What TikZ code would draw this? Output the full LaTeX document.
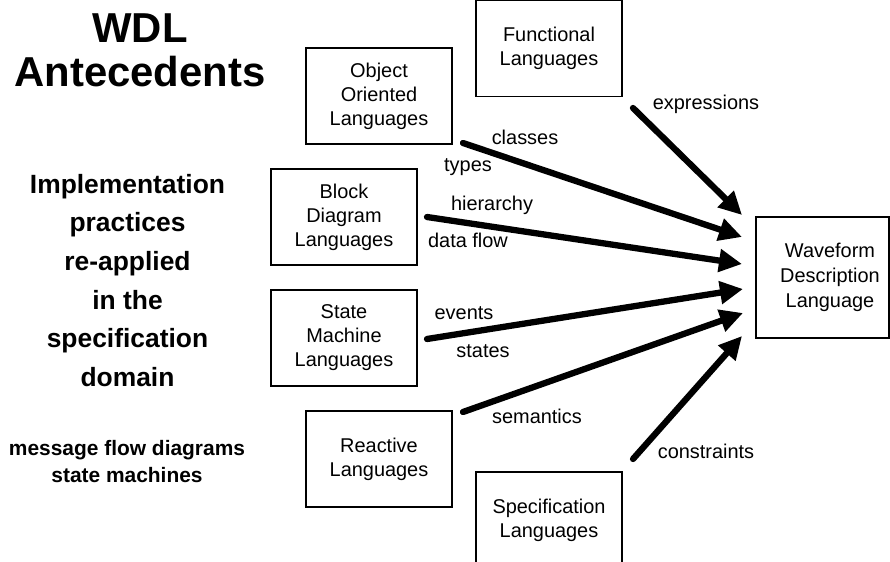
\documentclass[tikz,border=0pt]{standalone}
\usepackage{fontspec}
\setmainfont{Liberation Sans}
\usetikzlibrary{arrows.meta}
\begin{document}
\begin{tikzpicture}[x=1bp,y=-1bp,
  langbox/.style={draw, line width=1.2bp, minimum width=146bp, minimum height=96bp,
    inner sep=0pt, align=center, font=\fontsize{20}{24}\selectfont},
  flow/.style={line width=6.3bp, line cap=round, -{Triangle[length=23bp,width=22bp]}},
  lbl/.style={anchor=base, inner sep=0pt, font=\fontsize{20}{24}\selectfont}]
\clip (0,0) rectangle (890,562);

% headings on the left
\node[align=center, inner sep=0pt, font=\fontsize{42}{44}\bfseries] (title) at (140,50) {WDL\\Antecedents};
\node[align=center, inner sep=0pt, font=\fontsize{26.5}{38.8}\bfseries] (practice) at (127.5,280.5)
  {Implementation\\practices\\re-applied\\in the\\specification\\domain};
\node[align=center, inner sep=0pt, font=\fontsize{21}{28}\bfseries] (examples) at (127,461.5)
  {message flow diagrams\\state machines};

% source languages
\node[langbox] (func) at (549,48.5) {Functional\\Languages};
\node[langbox] (oo) at (379,96) {Object\\Oriented\\Languages};
\node[langbox] (block) at (344,217) {Block\\Diagram\\Languages};
\node[langbox] (fsm) at (344,338) {State\\Machine\\Languages};
\node[langbox] (react) at (379,459) {Reactive\\Languages};
\node[langbox] (spec) at (549,520) {Specification\\Languages};

% target language
\node[draw, line width=1.2bp, minimum width=133bp, minimum height=121bp, inner sep=0pt] (wdl) at (822.5,277.5) {};
\node[align=center, inner sep=0pt, font=\fontsize{20}{25}\selectfont] (wdltext) at (830,277.5)
  {Waveform\\Description\\Language};

% arrow ends
\coordinate (sFunc) at (633,108);   \coordinate (tFunc) at (742,215);
\coordinate (sOO) at (463,143);     \coordinate (tOO) at (742,237);
\coordinate (sBlock) at (427,217);  \coordinate (tBlock) at (742,264);
\coordinate (sFsm) at (427,339);    \coordinate (tFsm) at (743,289);
\coordinate (sReact) at (463,412);  \coordinate (tReact) at (743,313);
\coordinate (sSpec) at (633,459);   \coordinate (tSpec) at (742,336);

\draw[flow] (sFunc) -- (tFunc);
\draw[flow] (sOO) -- (tOO);
\draw[flow] (sBlock) -- (tBlock);
\draw[flow] (sFsm) -- (tFsm);
\draw[flow] (sReact) -- (tReact);
\draw[flow] (sSpec) -- (tSpec);

% contributions
\node[lbl] (lexpr) at (706,110) {expressions};
\node[lbl] (lclass) at (525,145) {classes};
\node[lbl] (ltype) at (468,172) {types};
\node[lbl] (lhier) at (492,210.5) {hierarchy};
\node[lbl] (ldata) at (468,248) {data flow};
\node[lbl] (levent) at (464,320) {events};
\node[lbl] (lstate) at (483,357) {states};
\node[lbl] (lsem) at (537,423) {semantics};
\node[lbl] (lcons) at (706,458) {constraints};
\end{tikzpicture}
\end{document}
